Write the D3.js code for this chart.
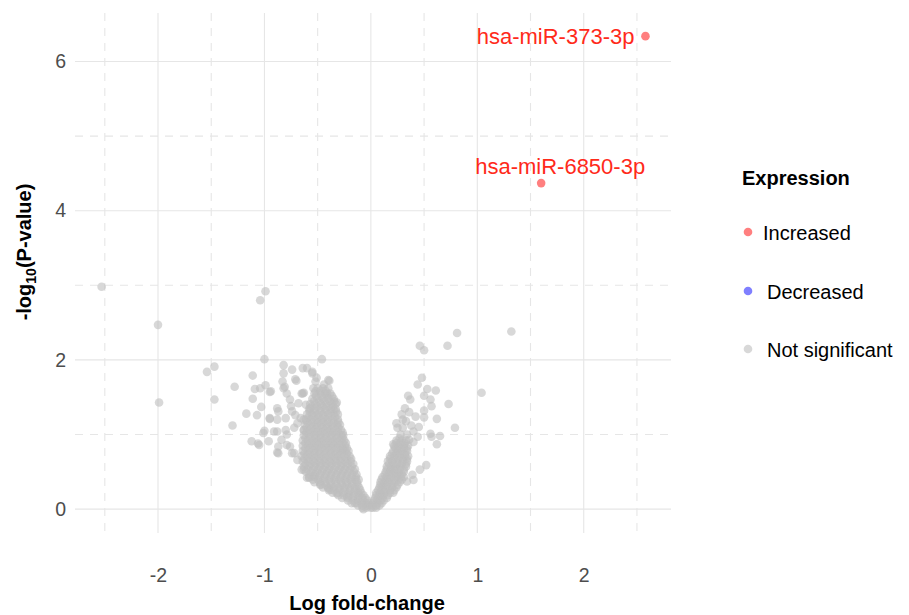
<!DOCTYPE html>
<html>
<head>
<meta charset="utf-8">
<script src="https://cdn.jsdelivr.net/npm/d3@7"></script>
<style>
  html, body { margin: 0; padding: 0; background: #ffffff; }
  svg { display: block; font-family: "Liberation Sans", Arial, Helvetica, sans-serif; }
</style>
</head>
<body>
<svg id="chart" width="909" height="615"></svg>
<script>
// ---------------- DATA ----------------
const xMajorTicks = [-2, -1, 0, 1, 2];
const xMinorTicks = [-2.5, -1.5, -0.5, 0.5, 1.5, 2.5];
const yMajorTicks = [0, 2, 4, 6];
const yMinorTicks = [1, 3, 5];

// significant (increased) miRNAs
const sigGenes   = ["hsa-miR-373-3p", "hsa-miR-6850-3p"];
const sigLogFC   = [2.58, 1.60];
const sigNegLogP = [6.34, 4.37];

// not significant: scattered points [logFC, -log10 p]
const nsScatter = [
  [-2.53,2.98],[-2.00,2.47],[-1.99,1.43],[-0.99,2.92],[-1.04,2.80],[-1.00,2.01],[-1.54,1.84],[-1.47,1.91],
  [-1.47,1.47],[-1.28,1.64],[-1.11,1.79],[-1.09,1.61],[-1.04,1.62],[-0.99,1.66],[-0.95,1.57],[-1.11,1.48],
  [-1.03,1.37],[-1.17,1.28],[-1.07,1.26],[-1.30,1.12],[-0.95,1.21],[-1.12,0.91],[-1.06,0.88],[-1.01,1.02],
  [-0.96,0.91],[-0.88,1.35],[-0.82,1.93],[-0.74,1.87],[-0.82,1.82],[-0.64,1.89],[-0.70,1.72],[-0.83,1.71],
  [-0.82,1.62],[-0.79,1.55],[-0.76,1.47],[-0.87,1.31],[-1.00,1.05],[-0.88,0.76],[-0.84,0.93],[-0.79,1.00],
  [-0.69,1.15],[-0.64,1.55],[-0.61,1.40],[-0.74,1.31],[-0.66,1.22],[-0.72,1.09],[-0.76,0.84],[-0.63,1.06],
  [-0.46,2.01],[-0.60,1.89],[-0.55,1.82],[-0.52,1.71],[-0.39,1.72],[-0.44,1.67],[-0.81,1.64],[-0.63,1.56],
  [-0.52,1.58],[-0.41,1.55],[-0.68,1.42],[-0.32,1.43],[-0.75,1.38],[-0.57,1.35],[-0.94,1.58],[-0.88,1.20],
  [-0.80,1.22],[-0.71,1.26],[-0.63,1.20],[-0.88,1.04],[-0.80,1.06],[-0.87,0.84],[-0.72,0.75],[-0.69,0.66],
  [-0.63,0.53],[-0.60,0.42],[-0.54,0.44],[-0.47,0.33],[-0.40,0.28],[-0.32,0.21],[-0.22,0.17],[-0.15,0.08],
  [-0.07,0.00],[-1.05,0.86],[-0.87,0.75],[-0.74,0.75],[-0.65,0.53],[-0.58,0.42],[-0.55,1.84],[-0.51,1.76],
  [-0.40,1.73],[-0.71,1.74],[-0.65,1.55],[-0.54,1.62],[-0.35,1.33],[-0.95,1.22],[-0.91,1.04],[-0.79,0.86],
  [-0.38,0.26],[-0.26,0.79],
  [1.32,2.38],[0.81,2.36],[0.72,2.19],[0.46,2.19],[0.50,2.13],[1.04,1.56],[0.48,1.76],[0.44,1.67],
  [0.53,1.61],[0.61,1.59],[0.35,1.52],[0.37,1.47],[0.50,1.52],[0.56,1.47],[0.57,1.38],[0.73,1.41],
  [0.50,1.32],[0.32,1.35],[0.36,1.30],[0.29,1.27],[0.42,1.24],[0.50,1.23],[0.62,1.21],[0.33,1.18],
  [0.25,1.09],[0.30,1.09],[0.79,1.09],[0.40,1.04],[0.56,1.01],[0.65,0.98],[0.57,0.97],[0.62,0.87],
  [0.44,0.97],[0.21,0.87],[0.52,0.59],[0.46,0.53],[0.39,0.46],[0.40,0.39],[0.34,0.37],
  [0.24,1.15],[0.28,1.00],[0.34,1.00],[0.38,1.12],[0.27,0.95],[0.30,1.20],[0.45,1.10],[0.36,0.93],[0.40,0.90]
];

// not significant: dense left cloud, rows of [-log10 p, [logFC values]]
const nsLeftRows = [
  [1.62,  [-0.50,-0.45,-0.40]],
  [1.585, [-0.475,-0.425]],
  [1.55,  [-0.53,-0.48,-0.43,-0.38]],
  [1.515, [-0.515,-0.465,-0.415,-0.365]],
  [1.48,  [-0.55,-0.50,-0.45,-0.40,-0.35]],
  [1.445, [-0.535,-0.485,-0.435,-0.385,-0.345]],
  [1.41,  [-0.57,-0.52,-0.47,-0.42,-0.37,-0.33]],
  [1.375, [-0.555,-0.505,-0.455,-0.405,-0.355]],
  [1.34,  [-0.58,-0.53,-0.48,-0.43,-0.38,-0.33]],
  [1.305, [-0.575,-0.525,-0.475,-0.425,-0.375,-0.325]],
  [1.27,  [-0.60,-0.55,-0.50,-0.45,-0.40,-0.35,-0.31]],
  [1.235, [-0.585,-0.535,-0.485,-0.435,-0.385,-0.335]],
  [1.20,  [-0.61,-0.56,-0.51,-0.46,-0.41,-0.36,-0.31]],
  [1.165, [-0.595,-0.545,-0.495,-0.445,-0.395,-0.345,-0.305]],
  [1.13,  [-0.62,-0.57,-0.52,-0.47,-0.42,-0.37,-0.32,-0.29]],
  [1.095, [-0.605,-0.555,-0.505,-0.455,-0.405,-0.355,-0.305]],
  [1.06,  [-0.63,-0.58,-0.53,-0.48,-0.43,-0.38,-0.33,-0.28]],
  [1.025, [-0.605,-0.555,-0.505,-0.455,-0.405,-0.355,-0.305,-0.265]],
  [0.99,  [-0.63,-0.58,-0.53,-0.48,-0.43,-0.38,-0.33,-0.28,-0.26]],
  [0.955, [-0.615,-0.565,-0.515,-0.465,-0.415,-0.365,-0.315,-0.265]],
  [0.92,  [-0.64,-0.59,-0.54,-0.49,-0.44,-0.39,-0.34,-0.29,-0.25]],
  [0.885, [-0.615,-0.565,-0.515,-0.465,-0.415,-0.365,-0.315,-0.265,-0.235]],
  [0.85,  [-0.64,-0.59,-0.54,-0.49,-0.44,-0.39,-0.34,-0.29,-0.24]],
  [0.815, [-0.615,-0.565,-0.515,-0.465,-0.415,-0.365,-0.315,-0.265,-0.225]],
  [0.78,  [-0.64,-0.59,-0.54,-0.49,-0.44,-0.39,-0.34,-0.29,-0.24,-0.21]],
  [0.745, [-0.625,-0.575,-0.525,-0.475,-0.425,-0.375,-0.325,-0.275,-0.225]],
  [0.71,  [-0.65,-0.60,-0.55,-0.50,-0.45,-0.40,-0.35,-0.30,-0.25,-0.20]],
  [0.675, [-0.625,-0.575,-0.525,-0.475,-0.425,-0.375,-0.325,-0.275,-0.225,-0.185]],
  [0.64,  [-0.64,-0.59,-0.54,-0.49,-0.44,-0.39,-0.34,-0.29,-0.24,-0.19]],
  [0.605, [-0.615,-0.565,-0.515,-0.465,-0.415,-0.365,-0.315,-0.265,-0.215,-0.165]],
  [0.57,  [-0.63,-0.58,-0.53,-0.48,-0.43,-0.38,-0.33,-0.28,-0.23,-0.18]],
  [0.535, [-0.595,-0.545,-0.495,-0.445,-0.395,-0.345,-0.295,-0.245,-0.195,-0.15]],
  [0.50,  [-0.61,-0.56,-0.51,-0.46,-0.41,-0.36,-0.31,-0.26,-0.21,-0.16]],
  [0.465, [-0.575,-0.525,-0.475,-0.425,-0.375,-0.325,-0.275,-0.225,-0.175,-0.135]],
  [0.43,  [-0.58,-0.53,-0.48,-0.43,-0.38,-0.33,-0.28,-0.23,-0.18,-0.14]],
  [0.395, [-0.545,-0.495,-0.445,-0.395,-0.345,-0.295,-0.245,-0.195,-0.145,-0.115]],
  [0.36,  [-0.53,-0.48,-0.43,-0.38,-0.33,-0.28,-0.23,-0.18,-0.13]],
  [0.325, [-0.475,-0.425,-0.375,-0.325,-0.275,-0.225,-0.175,-0.125]],
  [0.29,  [-0.45,-0.40,-0.35,-0.30,-0.25,-0.20,-0.15,-0.11]],
  [0.255, [-0.395,-0.345,-0.295,-0.245,-0.195,-0.145,-0.10]],
  [0.22,  [-0.36,-0.31,-0.26,-0.21,-0.16,-0.12,-0.09]],
  [0.185, [-0.305,-0.255,-0.205,-0.155,-0.11,-0.07]],
  [0.15,  [-0.27,-0.22,-0.17,-0.12,-0.08,-0.05]],
  [0.115, [-0.215,-0.165,-0.115,-0.075,-0.035]],
  [0.08,  [-0.18,-0.13,-0.09,-0.05,-0.02]],
  [0.05,  [-0.12,-0.08,-0.04,-0.01]],
  [0.02,  [-0.08,-0.04,0.00]]
];

// not significant: dense right cloud
const nsRightRows = [
  [0.92,  [0.24,0.29,0.33]],
  [0.885, [0.24,0.28,0.32]],
  [0.85,  [0.22,0.26,0.31,0.35]],
  [0.815, [0.23,0.27,0.31,0.34]],
  [0.78,  [0.21,0.25,0.29,0.34]],
  [0.745, [0.20,0.24,0.28,0.32]],
  [0.71,  [0.18,0.22,0.27,0.32,0.35]],
  [0.675, [0.18,0.22,0.26,0.30,0.34]],
  [0.64,  [0.16,0.20,0.25,0.30,0.34]],
  [0.605, [0.17,0.21,0.25,0.29,0.33]],
  [0.57,  [0.15,0.19,0.23,0.28,0.33]],
  [0.535, [0.15,0.19,0.23,0.27,0.31]],
  [0.50,  [0.14,0.18,0.22,0.26,0.31]],
  [0.465, [0.13,0.17,0.21,0.25,0.29]],
  [0.43,  [0.11,0.15,0.19,0.24,0.28,0.31]],
  [0.395, [0.10,0.14,0.18,0.22,0.26,0.29]],
  [0.36,  [0.09,0.13,0.17,0.22,0.27]],
  [0.325, [0.09,0.12,0.16,0.20,0.25]],
  [0.29,  [0.08,0.11,0.15,0.20,0.24]],
  [0.255, [0.07,0.10,0.14,0.18,0.22]],
  [0.22,  [0.05,0.09,0.13,0.18,0.21]],
  [0.185, [0.05,0.08,0.12,0.16]],
  [0.15,  [0.04,0.07,0.11,0.15]],
  [0.115, [0.03,0.06,0.09,0.12]],
  [0.08,  [0.02,0.06,0.10]],
  [0.05,  [0.02,0.05,0.08]],
  [0.02,  [0.02,0.05]]
];

const legendTitle  = "Expression";
const legendLabels = ["Increased", "Decreased", "Not significant"];
const legendColors = ["#FF0000", "#0000FF", "#BEBEBE"];

const xTitle = "Log fold-change";

// ---------------- CHART ----------------
const svg = d3.select("#chart");
const panel = { left: 75, right: 671, top: 13, bottom: 533 };

const x = d3.scaleLinear().domain([-2.78, 2.82]).range([panel.left, panel.right]);
const y = d3.scaleLinear().domain([-0.32, 6.65]).range([panel.bottom, panel.top]);

const grid = svg.append("g");
const gridColor = "#e6e6e6";
// minor (dashed)
grid.selectAll(".vminor").data(xMinorTicks).join("line")
  .attr("x1", d => x(d)).attr("x2", d => x(d)).attr("y1", panel.top).attr("y2", panel.bottom)
  .attr("stroke", gridColor).attr("stroke-width", 1.1).attr("stroke-dasharray", "8,7");
grid.selectAll(".hminor").data(yMinorTicks).join("line")
  .attr("y1", d => y(d)).attr("y2", d => y(d)).attr("x1", panel.left).attr("x2", panel.right)
  .attr("stroke", gridColor).attr("stroke-width", 1.1).attr("stroke-dasharray", "8,7");
// major (solid)
grid.selectAll(".vmajor").data(xMajorTicks).join("line")
  .attr("x1", d => x(d)).attr("x2", d => x(d)).attr("y1", panel.top).attr("y2", panel.bottom)
  .attr("stroke", gridColor).attr("stroke-width", 1.1);
grid.selectAll(".hmajor").data(yMajorTicks).join("line")
  .attr("y1", d => y(d)).attr("y2", d => y(d)).attr("x1", panel.left).attr("x2", panel.right)
  .attr("stroke", gridColor).attr("stroke-width", 1.1);

// axes (labels only)
const xAxis = svg.append("g").attr("transform", `translate(0,${panel.bottom})`)
  .call(d3.axisBottom(x).tickValues(xMajorTicks).tickSize(0).tickPadding(35).tickFormat(d3.format("d")));
const yAxis = svg.append("g").attr("transform", `translate(${panel.left},0)`)
  .call(d3.axisLeft(y).tickValues(yMajorTicks).tickSize(0).tickPadding(9).tickFormat(d3.format("d")));
[xAxis, yAxis].forEach(a => {
  a.select(".domain").remove();
  a.selectAll("text").attr("fill", "#4d4d4d").style("font-size", "19.5px")
    .style("font-family", '"Liberation Sans", Arial, Helvetica, sans-serif');
});
xAxis.selectAll("text").text(d => d < 0 ? "-" + Math.abs(d) : String(d));

// points
const nsPoints = nsScatter.slice();
nsLeftRows.forEach(([py, xs]) => xs.forEach(px => nsPoints.push([px, py])));
nsRightRows.forEach(([py, xs]) => xs.forEach(px => nsPoints.push([px, py])));

svg.append("g").selectAll("circle").data(nsPoints).join("circle")
  .attr("cx", d => x(d[0])).attr("cy", d => y(d[1])).attr("r", 4.3)
  .attr("fill", legendColors[2]).attr("fill-opacity", 0.6);

const sig = sigGenes.map((g, i) => ({ gene: g, fc: sigLogFC[i], p: sigNegLogP[i] }));
svg.append("g").selectAll("circle").data(sig).join("circle")
  .attr("cx", d => x(d.fc)).attr("cy", d => y(d.p)).attr("r", 4.3)
  .attr("fill", legendColors[0]).attr("fill-opacity", 0.5);

// labels (repel-like offsets)
const labelOffsets = [{ dx: -11, dy: 8, anchor: "end" }, { dx: 19, dy: -9, anchor: "middle" }];
svg.append("g").selectAll("text").data(sig).join("text")
  .attr("x", (d, i) => x(d.fc) + labelOffsets[i].dx)
  .attr("y", (d, i) => y(d.p) + labelOffsets[i].dy)
  .attr("text-anchor", (d, i) => labelOffsets[i].anchor)
  .attr("fill", "#ff2a1a").style("font-size", "22px")
  .text(d => d.gene);

// axis titles
svg.append("text").attr("x", 367).attr("y", 609.5).attr("text-anchor", "middle")
  .style("font-size", "20px").style("font-weight", "bold").attr("fill", "#000").text(xTitle);

const yt = svg.append("text").attr("transform", "translate(31,252) rotate(-90)")
  .attr("text-anchor", "middle").style("font-size", "20px").style("font-weight", "bold").attr("fill", "#000");
yt.append("tspan").text("-log");
yt.append("tspan").attr("dy", 5).style("font-size", "14px").text("10");
yt.append("tspan").attr("dy", -5).text("(P-value)");

// legend
const lg = svg.append("g");
lg.append("text").attr("x", 742).attr("y", 185).style("font-size", "20px").style("font-weight", "bold")
  .attr("fill", "#000").text(legendTitle);
const legendRowsY = [232.5, 291.5, 349.5];
const legendTextX = [763, 767, 767];
const legendAlpha = [0.5, 0.5, 0.6];
legendLabels.forEach((lab, i) => {
  lg.append("circle").attr("cx", 748).attr("cy", legendRowsY[i] - 0.5).attr("r", 4.3)
    .attr("fill", legendColors[i]).attr("fill-opacity", legendAlpha[i]);
  lg.append("text").attr("x", legendTextX[i]).attr("y", legendRowsY[i] + 7.3)
    .style("font-size", "20px").attr("fill", "#000").text(lab);
});
</script>
</body>
</html>
